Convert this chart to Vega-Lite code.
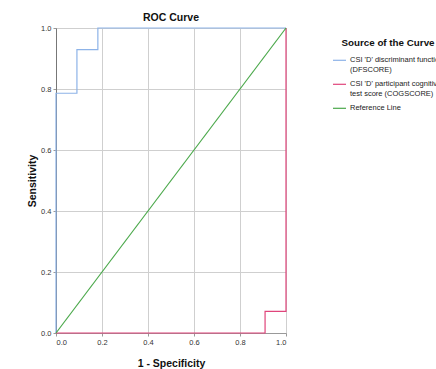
{
  "$schema": "https://vega.github.io/schema/vega-lite/v6.json",
  "width": 230,
  "height": 305,
  "autosize": "none",
  "padding": {"left": 56, "top": 28, "right": 150, "bottom": 36},
  "background": "white",
  "title": {"text": "ROC Curve", "fontSize": 10.5, "font": "Liberation Sans", "fontWeight": "bold", "color": "#111", "anchor": "middle", "offset": 1},
  "data": {"values": [
    {"s": "CSI 'D' discriminant function|(DFSCORE)", "o": 1, "x": 0, "y": 0},
    {"s": "CSI 'D' discriminant function|(DFSCORE)", "o": 2, "x": 0, "y": 0.786},
    {"s": "CSI 'D' discriminant function|(DFSCORE)", "o": 3, "x": 0.091, "y": 0.786},
    {"s": "CSI 'D' discriminant function|(DFSCORE)", "o": 4, "x": 0.091, "y": 0.929},
    {"s": "CSI 'D' discriminant function|(DFSCORE)", "o": 5, "x": 0.182, "y": 0.929},
    {"s": "CSI 'D' discriminant function|(DFSCORE)", "o": 6, "x": 0.182, "y": 1},
    {"s": "CSI 'D' discriminant function|(DFSCORE)", "o": 7, "x": 1, "y": 1},
    {"s": "CSI 'D' participant cognitive|test score (COGSCORE)", "o": 1, "x": 0, "y": 0},
    {"s": "CSI 'D' participant cognitive|test score (COGSCORE)", "o": 2, "x": 0.909, "y": 0},
    {"s": "CSI 'D' participant cognitive|test score (COGSCORE)", "o": 3, "x": 0.909, "y": 0.071},
    {"s": "CSI 'D' participant cognitive|test score (COGSCORE)", "o": 4, "x": 1, "y": 0.071},
    {"s": "CSI 'D' participant cognitive|test score (COGSCORE)", "o": 5, "x": 1, "y": 1},
    {"s": "Reference Line", "o": 1, "x": 0, "y": 0},
    {"s": "Reference Line", "o": 2, "x": 1, "y": 1}
  ]},
  "mark": {"type": "line", "strokeWidth": 1.2, "clip": false},
  "encoding": {
    "x": {"field": "x", "type": "quantitative", "scale": {"domain": [0, 1], "nice": false},
      "axis": {"title": "1 - Specificity", "format": ".1f", "values": [0, 0.2, 0.4, 0.6, 0.8, 1], "titleFontSize": 10.5, "titleFont": "Liberation Sans", "titleFontWeight": "bold", "titleColor": "#111", "titlePadding": 13, "labelFont": "Liberation Sans", "labelFontSize": 7.5, "labelColor": "#333", "gridColor": "#cfcfcf", "domainColor": "#999", "tickColor": "#999", "tickSize": 3}},
    "y": {"field": "y", "type": "quantitative", "scale": {"domain": [0, 1], "nice": false},
      "axis": {"title": "Sensitivity", "format": ".1f", "values": [0, 0.2, 0.4, 0.6, 0.8, 1], "titleFontSize": 10.5, "titleFont": "Liberation Sans", "titleFontWeight": "bold", "titleColor": "#111", "titlePadding": 3, "labelFont": "Liberation Sans", "labelFontSize": 7.5, "labelColor": "#333", "gridColor": "#cfcfcf", "domainColor": "#777", "tickColor": "#999", "tickSize": 3}},
    "color": {"field": "s", "type": "nominal",
      "scale": {"domain": ["CSI 'D' discriminant function|(DFSCORE)", "CSI 'D' participant cognitive|test score (COGSCORE)", "Reference Line"], "range": ["#8db3e8", "#e0457b", "#4aa84a"]},
      "legend": {"orient": "none", "legendX": 276, "legendY": 10, "title": "Source of the Curve", "titleFont": "Liberation Sans", "titleFontSize": 9.8, "titleFontWeight": "bold", "titleColor": "#111", "titleAnchor": "middle", "titlePadding": 5, "labelExpr": "split(datum.label, '|')", "labelFont": "Liberation Sans", "labelFontSize": 7.5, "labelColor": "#222", "labelLineHeight": 8.5, "labelLimit": 200, "symbolType": "stroke", "symbolSize": 170, "symbolStrokeWidth": 1.2, "rowPadding": 3, "labelOffset": 3}},
    "order": {"field": "o", "type": "quantitative"}
  },
  "config": {"view": {"stroke": null}}
}
